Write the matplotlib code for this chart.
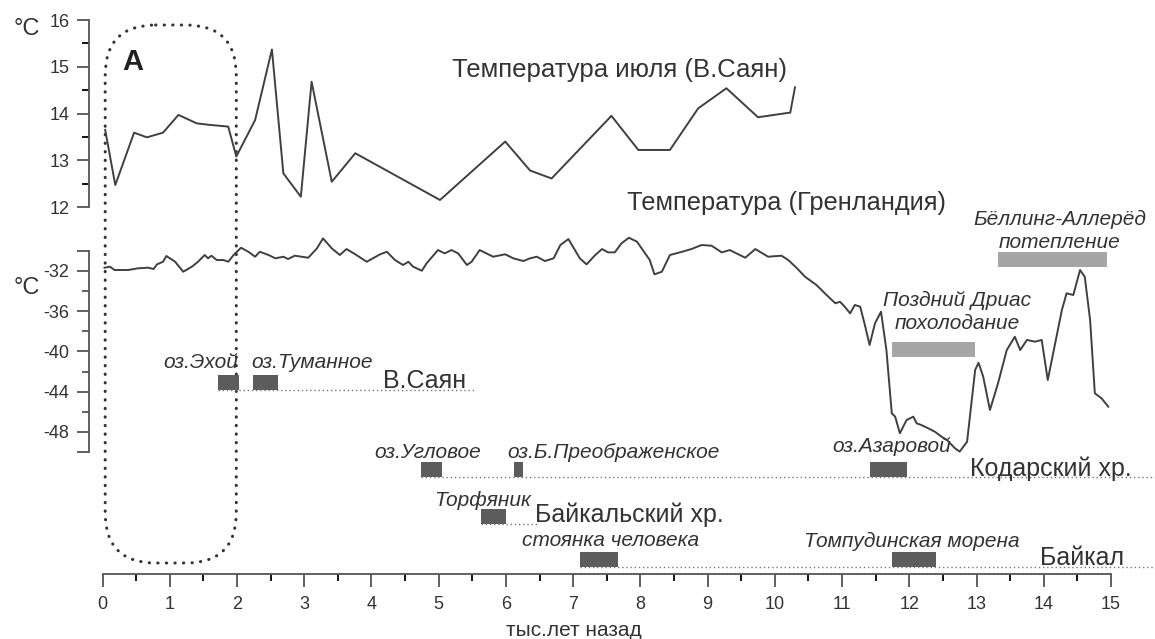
import numpy as np
import matplotlib.pyplot as plt
from matplotlib.patches import FancyBboxPatch

plt.rcParams['font.family'] = ['Liberation Sans', 'DejaVu Sans']

# July temperature, Eastern Sayan (ka BP, deg C)
jul_ka = [0.04, 0.19, 0.47, 0.66, 0.90, 1.13, 1.40, 1.57, 1.87, 1.99, 2.27, 2.52, 2.69,
          2.95, 3.11, 3.41, 3.76, 5.02, 5.99, 6.36, 6.68, 7.57, 7.97, 8.44, 8.86, 9.28,
          9.75, 10.23, 10.30]
jul_t = [13.65, 12.47, 13.59, 13.49, 13.59, 13.97, 13.79, 13.76, 13.72, 13.08, 13.86, 15.37, 12.72,
         12.22, 14.68, 12.54, 13.15, 12.15, 13.40, 12.78, 12.61, 13.95, 13.22, 13.22, 14.11, 14.54,
         13.92, 14.02, 14.56]

# Greenland temperature (ka BP, deg C)
grn_ka = [0.03, 0.11, 0.18, 0.38, 0.53, 0.68, 0.76, 0.81, 0.90, 0.95, 1.08, 1.20, 1.33, 1.42,
          1.52, 1.57, 1.62, 1.70, 1.80, 1.87, 1.95, 2.06, 2.17, 2.27, 2.34, 2.47, 2.57, 2.69,
          2.76, 2.86, 3.06, 3.19, 3.28, 3.41, 3.53, 3.63, 3.76, 3.93, 4.13, 4.23, 4.35, 4.47,
          4.55, 4.62, 4.75, 4.82, 4.99, 5.09, 5.19, 5.29, 5.42, 5.49, 5.61, 5.81, 5.99, 6.11,
          6.26, 6.36, 6.46, 6.58, 6.71, 6.81, 6.93, 7.10, 7.20, 7.33, 7.43, 7.52, 7.62, 7.72,
          7.83, 7.95, 8.07, 8.14, 8.21, 8.32, 8.44, 8.62, 8.76, 8.91, 9.06, 9.21, 9.33, 9.56,
          9.71, 9.90, 10.10, 10.20, 10.33, 10.45, 10.62, 10.77, 10.90, 10.97, 11.04, 11.12,
          11.19, 11.27, 11.34, 11.41, 11.49, 11.58, 11.66, 11.74, 11.79, 11.86, 11.96, 12.06,
          12.11, 12.18, 12.28, 12.38, 12.48, 12.56, 12.68, 12.75, 12.86, 12.93, 12.98, 13.03,
          13.10, 13.20, 13.32, 13.45, 13.57, 13.65, 13.75, 13.87, 13.97, 14.06, 14.17, 14.27,
          14.34, 14.44, 14.54, 14.61, 14.69, 14.76, 14.86, 14.96]
grn_t = [-31.7, -31.6, -31.93, -31.93, -31.76, -31.70, -31.83, -31.37, -31.11, -30.54, -31.11,
         -32.10, -31.60, -31.11, -30.44, -30.77, -30.51, -30.94, -30.94, -31.11, -30.44, -29.72,
         -30.12, -30.61, -30.12, -30.44, -30.77, -30.61, -30.84, -30.51, -30.71, -29.78, -28.79,
         -29.78, -30.44, -29.85, -30.37, -31.11, -30.37, -30.12, -30.94, -31.43, -31.11, -31.60,
         -32.00, -31.27, -29.95, -30.28, -29.95, -30.28, -31.43, -31.11, -29.95, -30.61, -30.37,
         -30.77, -31.04, -30.77, -30.61, -31.04, -30.77, -29.45, -28.86, -30.77, -31.37, -30.44,
         -29.85, -30.18, -30.18, -29.28, -28.73, -29.12, -30.28, -30.94, -32.36, -32.10, -30.44,
         -30.12, -29.85, -29.45, -29.52, -30.18, -29.95, -30.71, -29.85, -30.61, -30.51, -30.94,
         -31.76, -32.60, -33.42, -34.41, -35.23, -35.08, -35.57, -36.23, -35.40, -35.57, -37.39,
         -39.37, -37.22, -36.07, -39.87, -46.15, -46.48, -48.13, -46.81, -46.48, -47.14, -47.31,
         -47.63, -47.97, -48.47, -48.79, -49.62, -49.95, -48.96, -44.83, -41.85, -41.13, -42.52,
         -45.82, -43.17, -39.87, -38.55, -39.87, -38.87, -39.04, -38.87, -42.84, -39.20, -35.90,
         -34.24, -34.41, -31.93, -32.60, -36.89, -44.16, -44.66, -45.49]

# dated sites (ka BP), grouped by region
site_names = ['оз.Эхой', 'оз.Туманное', 'оз.Угловое', 'оз.Б.Преображенское', 'оз.Азаровой',
              'Торфяник', 'стоянка человека', 'Томпудинская морена']
site_start = [1.72, 2.24, 4.73, 6.12, 11.42, 5.63, 7.10, 11.74]
site_end = [2.03, 2.61, 5.05, 6.25, 11.97, 6.00, 7.67, 12.40]
site_row = [0, 0, 1, 1, 1, 2, 3, 3]

regions = ['В.Саян', 'Кодарский хр.', 'Байкальский хр.', 'Байкал']
region_start = [1.72, 4.73, 5.63, 7.10]
region_end = [5.54, 15.65, 6.46, 15.65]

events = ['Поздний Дриас\nпохолодание', 'Бёллинг-Аллерёд\nпотепление']
event_start = [11.74, 13.32]
event_end = [12.98, 14.94]

# layout: pixel rows of the figure (from top)
row_y = [382, 469.5, 516, 559]
event_y = [349.5, 259]
X0, X1 = -1.5246, 15.655

TXT = '#333333'
LINE = '#404040'

fig = plt.figure(figsize=(11.55, 6.39), dpi=100)
ax_b = fig.add_axes([0, 0, 1, 1])
ax_j = fig.add_axes([0, 0, 1, 1])
ax_g = fig.add_axes([0, 0, 1, 1])
for ax in (ax_b, ax_j, ax_g):
    ax.set_xlim(X0, X1)
    ax.patch.set_visible(False)
    for s in ax.spines.values():
        s.set_visible(False)
    ax.tick_params(colors=TXT, labelsize=13, width=1.3, length=9, pad=5)
    ax.tick_params(which='minor', length=5, width=1.3)

# bottom axis in pixel rows
ax_b.set_ylim(639, 0)
ax_b.spines['bottom'].set_visible(True)
ax_b.spines['bottom'].set_position(('data', 574))
ax_b.spines['bottom'].set_bounds(0, 15)
ax_b.spines['bottom'].set_linewidth(1.3)
ax_b.spines['bottom'].set_color('#555555')
ax_b.set_xticks(np.arange(0, 16, 1))
ax_b.set_xticks(np.arange(0.5, 15, 1), minor=True)
ax_b.tick_params(axis='x', colors='#555555', labelcolor=TXT, pad=7)
ax_b.set_yticks([])
fig.text(0.497, 0.014, 'тыс.лет назад', ha='center', va='center', fontsize=15, color=TXT)

# July temperature
ax_j.set_ylim(2.759, 16.428)
ax_j.plot(jul_ka, jul_t, color=LINE, lw=1.4)
ax_j.spines['left'].set_visible(True)
ax_j.spines['left'].set_position(('data', -0.2))
ax_j.spines['left'].set_bounds(12, 16)
ax_j.spines['left'].set_linewidth(1.3)
ax_j.spines['left'].set_color('#555555')
ax_j.set_yticks([12, 13, 14, 15, 16])
ax_j.set_yticks([12.5, 13.5, 14.5, 15.5], minor=True)
ax_j.tick_params(axis='y', colors='#555555', labelcolor=TXT)
ax_j.set_xticks([])
ax_j.text(X0 + 0.2, 15.8, '°C', fontsize=17, color=TXT, ha='left', va='center')
ax_j.text(0.3, 15.1, 'A', fontsize=21, fontweight='bold', color='#222222', ha='left', va='center')
ax_j.text(5.2, 14.93, 'Температура июля (В.Саян)', fontsize=18.5, color=TXT, ha='left', va='center')

# Greenland
ax_g.set_ylim(-68.54, -5.14)
ax_g.plot(grn_ka, grn_t, color=LINE, lw=1.4)
ax_g.spines['left'].set_visible(True)
ax_g.spines['left'].set_position(('data', -0.2))
ax_g.spines['left'].set_bounds(-50, -30)
ax_g.spines['left'].set_linewidth(1.3)
ax_g.spines['left'].set_color('#555555')
ax_g.set_yticks(np.arange(-50, -29, 2))
ax_g.set_yticklabels(['' if v in (-50, -30) or v % 4 else str(v) for v in range(-50, -29, 2)])
ax_g.tick_params(axis='y', colors='#555555', labelcolor=TXT)
ax_g.set_xticks([])
for t in ax_g.yaxis.get_major_ticks():
    if t.get_loc() % 4 and t.get_loc() not in (-50, -30):
        t.tick1line.set_markersize(5)
ax_g.text(X0 + 0.2, -33.7, '°C', fontsize=17, color=TXT, ha='left', va='center')
ax_g.text(7.8, -25.3, 'Температура (Гренландия)', fontsize=18.3, color=TXT, ha='left', va='center')

# highlighted 0-2 ka window
box = FancyBboxPatch((0.04, 25), 1.95, 538, boxstyle='round,pad=0,rounding_size=0.75',
                     mutation_aspect=67.23, fill=False, edgecolor='#333333', lw=2.2,
                     linestyle=(0, (0.1, 2.7)), capstyle='round')
ax_b.add_patch(box)

# region rows
for name, x0, x1, y in zip(regions, region_start, region_end, row_y):
    ax_b.plot([x0, x1], [y + 7.5, y + 7.5], color='#777777', lw=1, linestyle=(0, (1, 2)))
reg_x = [4.17, 12.90, 6.43, 13.94]
for name, x, y in zip(regions, reg_x, row_y):
    ax_b.text(x, y - 1, name, fontsize=18, color=TXT, ha='left', va='center')

# site bars and labels
for s0, s1, r in zip(site_start, site_end, site_row):
    ax_b.barh(row_y[r], s1 - s0, left=s0, height=15, color='#5c5c5c')
lab_x = [0.90, 2.22, 4.05, 6.02, 10.86, 4.93, 6.24, 10.43]
lab_y = [362, 362, 452, 452, 446, 500, 541, 541]
for name, x, y in zip(site_names, lab_x, lab_y):
    ax_b.text(x, y, name, fontsize=15, style='italic', color=TXT, ha='left', va='center')

# climatic events
for e0, e1, y in zip(event_start, event_end, event_y):
    ax_b.barh(y, e1 - e0, left=e0, height=15, color='#a6a6a6')
ev_x = [11.61, 12.95]
ev_y = [312, 231]
for name, x, y in zip(events, ev_x, ev_y):
    ax_b.text(x, y, name, fontsize=15, style='italic', color=TXT, ha='left', va='center',
              linespacing=1.3, multialignment='center')

fig.savefig('out.png', dpi=100)
